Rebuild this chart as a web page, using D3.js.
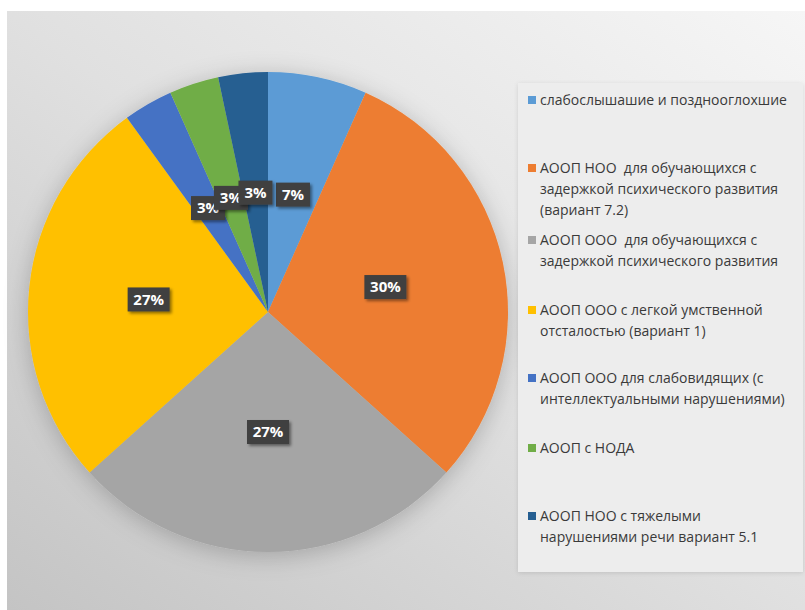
<!DOCTYPE html>
<html>
<head>
<meta charset="utf-8">
<script src="https://cdn.jsdelivr.net/npm/d3@7"></script>
<style>
  body { margin: 0; background: #ffffff; }
  svg { display: block; font-family: "Open Sans", "DejaVu Sans", sans-serif; }
</style>
</head>
<body>
<div id="chart"></div>
<script>
var svgWidth = 805;
var svgHeight = 610;

// Data
var categories = [
  "слабослышашие и позднооглохшие",
  "АООП НОО  для обучающихся с задержкой психического развития (вариант 7.2)",
  "АООП ООО  для обучающихся с задержкой психического развития",
  "АООП ООО с легкой умственной отсталостью (вариант 1)",
  "АООП ООО для слабовидящих (с интеллектуальными нарушениями)",
  "АООП с НОДА",
  "АООП НОО с тяжелыми нарушениями речи вариант 5.1"
];
var values = [2, 9, 8, 8, 1, 1, 1];
var percentLabels = ["7%", "30%", "27%", "27%", "3%", "3%", "3%"];
var legendLines = [
  ["слабослышашие и позднооглохшие"],
  ["АООП НОО  для обучающихся с", "задержкой психического развития", "(вариант 7.2)"],
  ["АООП ООО  для обучающихся с", "задержкой психического развития"],
  ["АООП ООО с легкой умственной", "отсталостью (вариант 1)"],
  ["АООП ООО для слабовидящих (с", "интеллектуальными нарушениями)"],
  ["АООП с НОДА"],
  ["АООП НОО с тяжелыми", "нарушениями речи вариант 5.1"]
];
var colors = ["#5b9bd5", "#ed7d31", "#a5a5a5", "#ffc000", "#4472c4", "#70ad47", "#255e91"];

var cx = 268, cy = 312, radius = 240;

var svg = d3.select("#chart")
  .append("svg")
  .attr("width", svgWidth)
  .attr("height", svgHeight);

var defs = svg.append("defs");

// background gradient
var bg = defs.append("linearGradient")
  .attr("id", "bgGrad")
  .attr("x1", "100%").attr("y1", "0%")
  .attr("x2", "0%").attr("y2", "100%");
bg.append("stop").attr("offset", "0%").attr("stop-color", "#f6f6f6");
bg.append("stop").attr("offset", "50%").attr("stop-color", "#e0e0e0");
bg.append("stop").attr("offset", "100%").attr("stop-color", "#c4c4c4");

var shadow = defs.append("filter").attr("id", "pieShadow")
  .attr("x", "-20%").attr("y", "-20%").attr("width", "140%").attr("height", "140%");
shadow.append("feGaussianBlur").attr("in", "SourceAlpha").attr("stdDeviation", 12);
shadow.append("feOffset").attr("dx", 0).attr("dy", 4).attr("result", "blur");
shadow.append("feFlood").attr("flood-color", "#000").attr("flood-opacity", 0.22);
shadow.append("feComposite").attr("in2", "blur").attr("operator", "in");
var m1 = shadow.append("feMerge");
m1.append("feMergeNode");
m1.append("feMergeNode").attr("in", "SourceGraphic");

var boxShadow = defs.append("filter").attr("id", "boxShadow")
  .attr("x", "-30%").attr("y", "-30%").attr("width", "160%").attr("height", "160%");
boxShadow.append("feGaussianBlur").attr("in", "SourceAlpha").attr("stdDeviation", 1.5);
boxShadow.append("feOffset").attr("dx", 2).attr("dy", 2).attr("result", "blur");
boxShadow.append("feFlood").attr("flood-color", "#000").attr("flood-opacity", 0.45);
boxShadow.append("feComposite").attr("in2", "blur").attr("operator", "in");
var m2 = boxShadow.append("feMerge");
m2.append("feMergeNode");
m2.append("feMergeNode").attr("in", "SourceGraphic");

var legShadow = defs.append("filter").attr("id", "legShadow")
  .attr("x", "-5%").attr("y", "-5%").attr("width", "110%").attr("height", "110%");
legShadow.append("feGaussianBlur").attr("in", "SourceAlpha").attr("stdDeviation", 2);
legShadow.append("feOffset").attr("dx", 0).attr("dy", 1).attr("result", "blur");
legShadow.append("feFlood").attr("flood-color", "#000").attr("flood-opacity", 0.12);
legShadow.append("feComposite").attr("in2", "blur").attr("operator", "in");
var m3 = legShadow.append("feMerge");
m3.append("feMergeNode");
m3.append("feMergeNode").attr("in", "SourceGraphic");

// chart area
svg.append("rect")
  .attr("x", 7).attr("y", 11)
  .attr("width", svgWidth - 7).attr("height", svgHeight - 11)
  .attr("fill", "url(#bgGrad)");

// Pie
var pie = d3.pie().sort(null).value(d => d);
var arc = d3.arc().innerRadius(0).outerRadius(radius);
var labelArc = d3.arc().innerRadius(radius * 0.5).outerRadius(radius * 0.5);
var arcs = pie(values);

var pieGroup = svg.append("g")
  .attr("transform", `translate(${cx}, ${cy})`);

pieGroup.append("g")
  .attr("filter", "url(#pieShadow)")
  .selectAll("path")
  .data(arcs)
  .enter()
  .append("path")
  .attr("d", arc)
  .attr("fill", (d, i) => colors[i]);

// Data labels
var labels = pieGroup.selectAll(".lbl")
  .data(arcs)
  .enter()
  .append("g")
  .attr("class", "lbl")
  .attr("transform", d => `translate(${labelArc.centroid(d)})`);

labels.each(function(d, i) {
  var g = d3.select(this);
  var w = percentLabels[i].length > 2 ? 42 : 34;
  g.append("rect")
    .attr("x", -w / 2).attr("y", -12)
    .attr("width", w).attr("height", 24)
    .attr("fill", "#404040")
    .attr("filter", "url(#boxShadow)");
  g.append("text")
    .attr("text-anchor", "middle")
    .attr("dy", "0.36em")
    .attr("fill", "#ffffff")
    .attr("font-weight", "bold")
    .attr("font-size", "15px")
    .text(percentLabels[i]);
});

// Legend
svg.append("rect")
  .attr("x", 518).attr("y", 83)
  .attr("width", 285).attr("height", 489)
  .attr("fill", "#ededed")
  .attr("filter", "url(#legShadow)");

var legendTop = [105, 173, 245, 315, 383, 453, 521];
var lineH = 21;

var legend = svg.append("g")
  .selectAll("g")
  .data(categories)
  .enter()
  .append("g")
  .attr("transform", (d, i) => `translate(528, ${legendTop[i]})`);

legend.append("rect")
  .attr("x", 0).attr("y", -9)
  .attr("width", 8).attr("height", 8)
  .attr("fill", (d, i) => colors[i]);

legend.each(function(d, i) {
  var t = d3.select(this).append("text")
    .attr("x", 12)
    .attr("y", 0)
    .attr("fill", "#3a3a3a")
    .attr("font-size", "14px");
  legendLines[i].forEach(function(line, j) {
    t.append("tspan")
      .attr("x", 12)
      .attr("dy", j === 0 ? 0 : lineH)
      .attr("xml:space", "preserve")
      .text(line);
  });
});
</script>
</body>
</html>
